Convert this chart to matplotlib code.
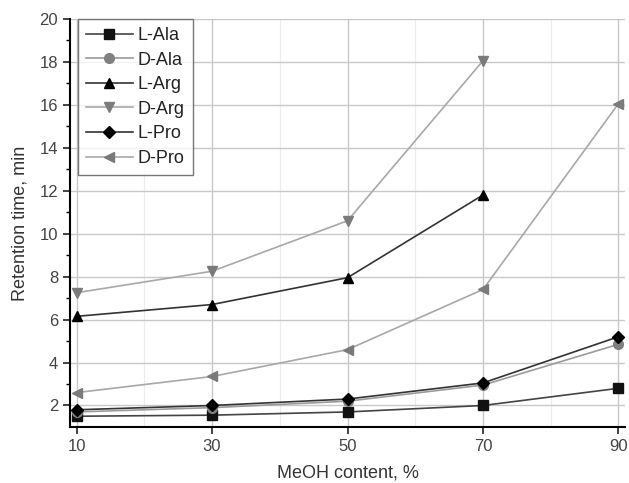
import matplotlib
matplotlib.use("Agg")
import matplotlib.pyplot as plt
import numpy as np

plt.rcParams['font.family'] = ['Liberation Sans', 'DejaVu Sans']

meoh = [10, 30, 50, 70, 90]
l_ala = [1.5, 1.55, 1.7, 2.0, 2.8]
d_ala = [1.7, 1.9, 2.2, 2.95, 4.85]
l_arg = [6.15, 6.7, 7.95, 11.8, np.nan]
d_arg = [7.25, 8.25, 10.6, 18.05, np.nan]
l_pro = [1.8, 2.0, 2.3, 3.05, 5.2]
d_pro = [2.6, 3.35, 4.6, 7.4, 16.05]

series = [
    ("L-Ala", l_ala, "s", "#111111", "#444444"),
    ("D-Ala", d_ala, "o", "#808080", "#9a9a9a"),
    ("L-Arg", l_arg, "^", "#000000", "#333333"),
    ("D-Arg", d_arg, "v", "#7a7a7a", "#a8a8a8"),
    ("L-Pro", l_pro, "D", "#000000", "#333333"),
    ("D-Pro", d_pro, "<", "#7a7a7a", "#a8a8a8"),
]

fig = plt.figure(figsize=(6.29, 4.83), dpi=100)
ax = fig.add_axes([0.111, 0.116, 0.883, 0.845])

for name, vals, mk, mc, lc in series:
    ms = 7 if mk != "D" else 6
    ax.plot(meoh, vals, color=lc, lw=1.2, marker=mk, markersize=ms,
            markerfacecolor=mc, markeredgecolor=mc, label=name)

ax.set_xlim(9, 91)
ax.set_ylim(1, 20)
ax.set_xticks(meoh)
ax.set_yticks(np.arange(2, 21, 2))
ax.set_yticks(np.arange(3, 20, 2), minor=True)
ax.set_xticks([20, 40, 60, 80], minor=True)
ax.grid(True, which="major", color="#c8c8c8", lw=1.0)
ax.grid(True, which="minor", axis="x", color="#ececec", lw=0.8)
ax.set_axisbelow(True)

for s in ["top", "right"]:
    ax.spines[s].set_visible(False)
ax.spines["left"].set_linewidth(1.5)
ax.spines["bottom"].set_linewidth(1.5)
ax.tick_params(axis="both", which="major", labelsize=12, width=1.2, length=5, colors="#222222", labelcolor="#444444")
ax.tick_params(axis="y", which="minor", width=1.0, length=3)
ax.tick_params(axis="x", which="minor", length=0)

ax.set_xlabel("MeOH content, %", fontsize=13, color="#333333", labelpad=8)
ax.set_ylabel("Retention time, min", fontsize=13, color="#333333", labelpad=8)

leg = ax.legend(loc="upper left", bbox_to_anchor=(0.0144, 1.0), fontsize=13, frameon=True,
                fancybox=False, edgecolor="#555555", handlelength=2.6,
                borderaxespad=0.0, borderpad=0.45, labelspacing=0.42, handletextpad=0.25,
                labelcolor="#222222")
leg.get_frame().set_linewidth(1.0)

fig.savefig("out.png", dpi=100)
